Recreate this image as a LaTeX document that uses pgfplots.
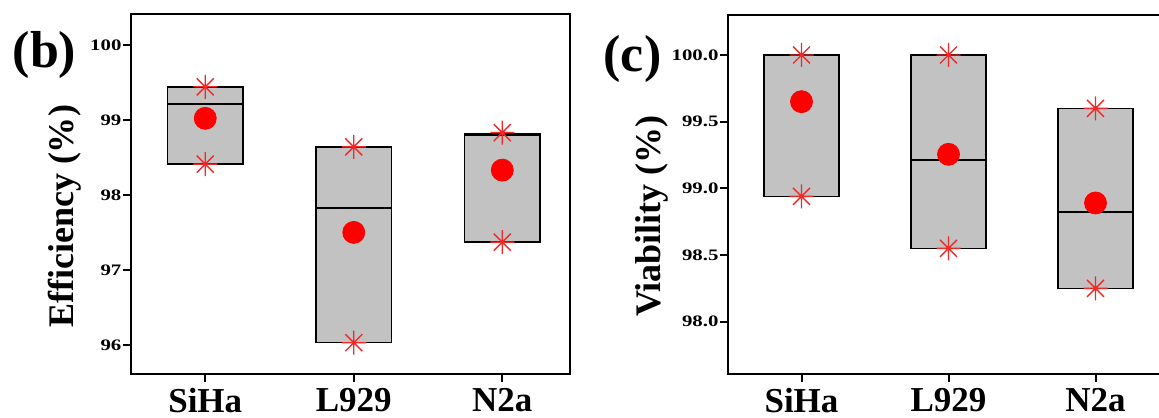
\documentclass[border=0pt]{standalone}
\usepackage{pgfplots}
\pgfplotsset{compat=1.18}
\usepackage{graphicx}
\usepackage{fontspec}
\setmainfont{Liberation Serif}
\definecolor{boxgray}{RGB}{194,194,194}
\definecolor{starred}{RGB}{240,40,40}
\pgfdeclareplotmark{star8}{%
  \pgfpathmoveto{\pgfqpoint{0pt}{\pgfplotmarksize}}\pgfpathlineto{\pgfqpoint{0pt}{-\pgfplotmarksize}}%
  \pgfpathmoveto{\pgfqpoint{\pgfplotmarksize}{0pt}}\pgfpathlineto{\pgfqpoint{-\pgfplotmarksize}{0pt}}%
  \pgfpathmoveto{\pgfqpoint{0.7071\pgfplotmarksize}{0.7071\pgfplotmarksize}}\pgfpathlineto{\pgfqpoint{-0.7071\pgfplotmarksize}{-0.7071\pgfplotmarksize}}%
  \pgfpathmoveto{\pgfqpoint{-0.7071\pgfplotmarksize}{0.7071\pgfplotmarksize}}\pgfpathlineto{\pgfqpoint{0.7071\pgfplotmarksize}{-0.7071\pgfplotmarksize}}%
  \pgfusepathqstroke}
\pgfplotsset{
  panel/.style={
    scale only axis,
    anchor=south west,
    axis line style={line width=1pt},
    major tick style={line width=1pt, black},
    tick align=outside,
    major tick length=4pt,
    xtick pos=bottom, ytick pos=left,
    xtick={0,1,2},
    xticklabels={SiHa,L929,N2a},
    xticklabel style={font=\bfseries\fontsize{17.5}{17.5}\selectfont, inner ysep=0pt, yshift=-3pt},
    yticklabel style={font=\bfseries\fontsize{8}{8}\selectfont, inner xsep=0.6pt},
    /pgf/number format/assume math mode=true,
    yticklabel={\scalebox{1.3}[1]{\bfseries\pgfmathprintnumber[assume math mode=true]{\tick}}},
    xmin=-0.5,
  },
  boxst/.style={fill=boxgray, draw=black, line width=0.75pt, mark=none},
  medst/.style={draw=black, line width=0.9pt, mark=none},
  starst/.style={only marks, mark=star8, mark size=6pt, mark options={draw=starred, line width=0.7pt}},
  meanst/.style={only marks, mark=*, mark size=5.5pt, mark options={fill=red, draw=red}},
}
\begin{document}
\begin{tikzpicture}
\useasboundingbox (0,0) rectangle (579.5pt,208.5pt);
% ---------- (b) ----------
\begin{axis}[panel,
  at={(65.5pt,21.75pt)}, width=219.5pt, height=179.75pt,
  xmax=2.456, ymin=95.62, ymax=100.41,
  ytick={96,97,98,99,100},
  /pgf/number format/.cd, fixed, precision=0,
]
\addplot[boxst] coordinates {(-0.255,98.41) (0.255,98.41) (0.255,99.44) (-0.255,99.44)} -- cycle;
\addplot[boxst] coordinates {(0.745,96.03) (1.255,96.03) (1.255,98.64) (0.745,98.64)} -- cycle;
\addplot[boxst] coordinates {(1.745,97.37) (2.255,97.37) (2.255,98.82) (1.745,98.82)} -- cycle;
\addplot[medst] coordinates {(-0.255,99.21) (0.255,99.21)};
\addplot[medst] coordinates {(0.745,97.83) (1.255,97.83)};
\addplot[medst] coordinates {(1.745,98.795) (2.255,98.795)};
\addplot[starst] coordinates {(0,99.44) (0,98.41) (1,98.64) (1,96.03) (2,98.83) (2,97.37)};
\addplot[meanst] coordinates {(0,99.02) (1,97.50) (2,98.33)};
\end{axis}
% ---------- (c) ----------
\begin{axis}[panel,
  at={(364pt,21.75pt)}, width=220.5pt, height=179.25pt,
  xmax=2.5, ymin=97.611, ymax=100.30,
  ytick={98.0,98.5,99.0,99.5,100.0},
  /pgf/number format/.cd, fixed, fixed zerofill, precision=1,
]
\addplot[boxst] coordinates {(-0.255,98.94) (0.255,98.94) (0.255,100.0) (-0.255,100.0)} -- cycle;
\addplot[boxst] coordinates {(0.745,98.55) (1.255,98.55) (1.255,100.0) (0.745,100.0)} -- cycle;
\addplot[boxst] coordinates {(1.745,98.25) (2.255,98.25) (2.255,99.60) (1.745,99.60)} -- cycle;
\addplot[medst] coordinates {(0.745,99.21) (1.255,99.21)};
\addplot[medst] coordinates {(1.745,98.82) (2.255,98.82)};
\addplot[starst] coordinates {(0,100.0) (0,98.94) (1,100.0) (1,98.55) (2,99.60) (2,98.25)};
\addplot[meanst] coordinates {(0,99.65) (1,99.255) (2,98.89)};
\end{axis}
% labels
\node[font=\bfseries\fontsize{26}{26}\selectfont, inner sep=0pt] at (22.25pt,181pt) {(b)};
\node[font=\bfseries\fontsize{26}{26}\selectfont, inner sep=0pt] at (316.25pt,179pt) {(c)};
\node[font=\bfseries\fontsize{18}{18}\selectfont, rotate=90, anchor=base, inner sep=0pt] at (36.5pt,100.25pt) {Efficiency (\%)};
\node[font=\bfseries\fontsize{18}{18}\selectfont, rotate=90, anchor=base, inner sep=0pt] at (330pt,100.5pt) {Viability (\%)};
\end{tikzpicture}
\end{document}
